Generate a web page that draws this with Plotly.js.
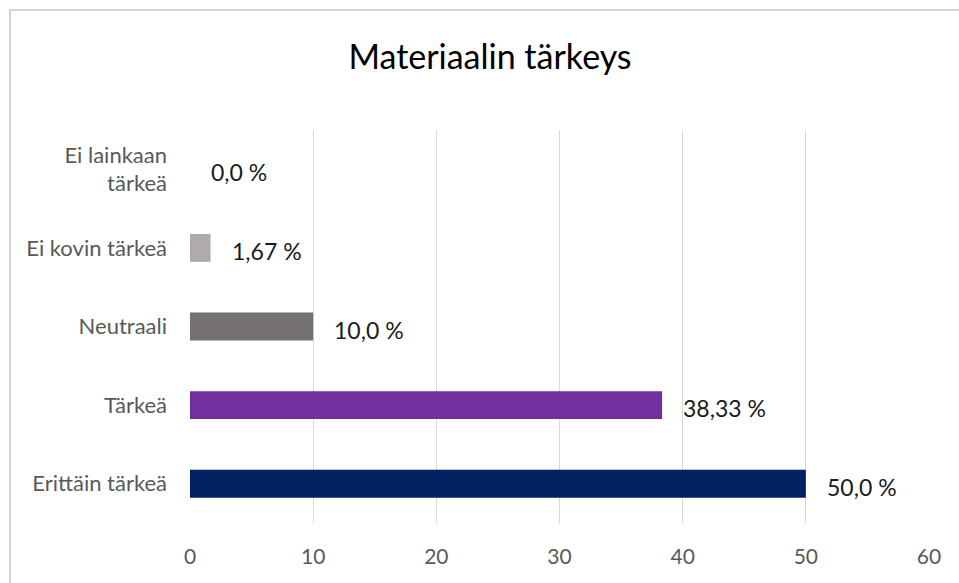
<!DOCTYPE html>
<html>
<head>
<meta charset="utf-8">
<script src="https://cdn.plot.ly/plotly-3.0.1.min.js"></script>
<style>
html,body{margin:0;padding:0;background:#fff;}
#chart{width:959px;height:583px;}
</style>
</head>
<body>
<div id="chart"></div>
<script>
const categories = ["Erittäin tärkeä", "Tärkeä", "Neutraali", "Ei kovin tärkeä", "Ei lainkaan<br>tärkeä"];
const values = [50.0, 38.33, 10.0, 1.67, 0.0];
const valueLabels = ["50,0 %", "38,33 %", "10,0 %", "1,67 %", "0,0 %"];
const barColors = ["#002060", "#7030A0", "#767171", "#AFABAB", "#D0CECE"];
const xTicks = [0, 10, 20, 30, 40, 50, 60];

const FONT = "Lato, 'Open Sans', sans-serif";

const trace = {
  type: "bar",
  orientation: "h",
  y: categories,
  x: values,
  marker: {color: barColors, line: {width: 0}},
  width: 0.355,
  hoverinfo: "skip"
};

const annotations = values.map((v, i) => ({
  x: v,
  y: categories[i],
  xref: "x",
  yref: "y",
  text: valueLabels[i],
  showarrow: false,
  xanchor: "left",
  yanchor: "middle",
  xshift: 19,
  yshift: -3,
  font: {family: FONT, size: 23, color: "#1a1a1a"}
}));

const layout = {
  width: 959,
  height: 583,
  margin: {l: 190, r: 30, t: 130, b: 60},
  paper_bgcolor: "#ffffff",
  plot_bgcolor: "#ffffff",
  showlegend: false,
  title: {
    text: "Materiaalin tärkeys",
    font: {family: FONT, size: 34, color: "#000000"},
    x: 490 / 959,
    xanchor: "center",
    xref: "container",
    y: 1 - 57 / 583,
    yanchor: "middle",
    yref: "container"
  },
  xaxis: {
    range: [0, 60],
    tickvals: xTicks,
    ticktext: xTicks.map(String),
    showgrid: true,
    gridcolor: "#d9d9d9",
    gridwidth: 1,
    zeroline: false,
    showline: false,
    ticks: "",
    ticklabelstandoff: 19,
    tickfont: {family: FONT, size: 21, color: "#595959"},
    fixedrange: true
  },
  yaxis: {
    categoryorder: "array",
    categoryarray: categories,
    showgrid: false,
    zeroline: false,
    showline: false,
    ticks: "",
    ticklabelstandoff: 22,
    tickfont: {family: FONT, size: 22, color: "#595959"},
    fixedrange: true
  },
  annotations: annotations,
  shapes: [{
    type: "rect",
    xref: "paper",
    yref: "paper",
    x0: (10 - 190) / 739,
    x1: (975 - 190) / 739,
    y0: (523 - 600) / 393,
    y1: (523 - 10) / 393,
    line: {color: "#d4d4d4", width: 2},
    fillcolor: "rgba(0,0,0,0)",
    layer: "below"
  }]
};

Plotly.newPlot("chart", [trace], layout, {displayModeBar: false, staticPlot: true});
</script>
</body>
</html>
